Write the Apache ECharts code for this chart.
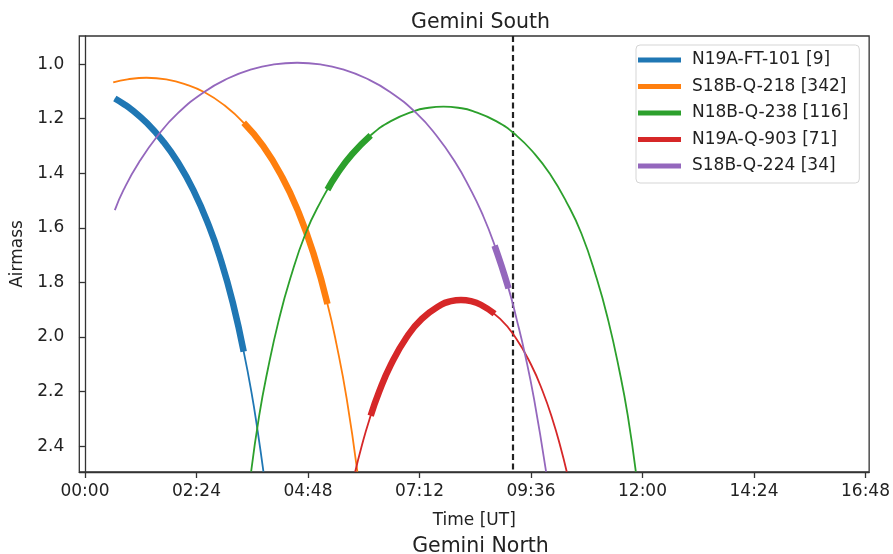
<!DOCTYPE html>
<html>
<head>
<meta charset="utf-8">
<script src="https://cdn.jsdelivr.net/npm/echarts@6/dist/echarts.min.js"></script>
<style>
html,body{margin:0;padding:0;background:#fff;}
#chart{width:893px;height:554px;}
</style>
</head>
<body>
<div id="chart"></div>
<script>
// ---- data (time in minutes UT, airmass) ----
const names = ['N19A-FT-101 [9]', 'S18B-Q-218 [342]', 'N18B-Q-238 [116]', 'N19A-Q-903 [71]', 'S18B-Q-224 [34]'];
const colors = ['#1f77b4', '#ff7f0e', '#2ca02c', '#d62728', '#9467bd'];

const blueCurve = [[38.6,1.126],[50,1.146],[60,1.166],[80,1.216],[100,1.280],[120,1.360],[140,1.462],[160,1.592],[175,1.714],[191,1.875],[205,2.054],[215,2.202],[223,2.344],[230.5,2.494]];
const blueObs   = [[38.6,1.126],[50,1.146],[60,1.166],[80,1.216],[100,1.280],[120,1.360],[140,1.462],[160,1.592],[175,1.714],[191,1.875],[205,2.054]];

const orangeCurve = [[36.5,1.067],[55,1.056],[79.4,1.050],[105,1.056],[130,1.074],[155,1.104],[180,1.151],[205,1.215],[230,1.300],[255,1.416],[275,1.537],[295,1.693],[313.2,1.879],[325,2.029],[338,2.226],[351.8,2.494]];
const orangeObs   = [[205,1.215],[230,1.300],[255,1.416],[275,1.537],[295,1.693],[313.2,1.879]];

const greenCurve = [[214.6,2.494],[225,2.288],[236,2.121],[250,1.942],[265,1.787],[285,1.620],[305,1.501],[325,1.405],[345,1.330],[369,1.261],[395,1.209],[425,1.172],[444,1.160],[463,1.156],[482,1.160],[501,1.172],[531,1.209],[557,1.261],[581,1.330],[601,1.405],[621,1.501],[641,1.620],[661,1.787],[676,1.942],[690,2.121],[701,2.288],[711.4,2.494]];
const greenObs   = [[313.2,1.460],[325,1.405],[345,1.330],[369,1.261]];

const redCurve = [[349,2.494],[357,2.404],[367,2.306],[380,2.200],[395,2.102],[415,2.003],[435,1.934],[460,1.882],[472.8,1.869],[485.6,1.865],[498.4,1.869],[511.2,1.882],[536.2,1.934],[556.2,2.003],[576.2,2.102],[591.2,2.200],[604.2,2.306],[614.2,2.404],[622.2,2.494]];
const redObs   = [[369,2.289],[380,2.200],[395,2.102],[415,2.003],[435,1.934],[460,1.882],[472.8,1.869],[485.6,1.865],[498.4,1.869],[511.2,1.882],[529,1.915]];

const purpleCurve = [[38.6,1.535],[50,1.460],[70,1.359],[94.4,1.261],[120,1.180],[154.5,1.101],[185,1.052],[215,1.019],[244,1.001],[274,0.995],[304,1.001],[333,1.019],[363,1.052],[393.5,1.101],[428,1.180],[453.6,1.261],[478,1.359],[498,1.460],[512,1.542],[527.8,1.654],[547,1.822],[558,1.941],[568.6,2.068],[580,2.228],[595.5,2.494]];
const purpleObs   = [[529,1.665],[538,1.740],[547,1.822]];

const nowTime = 552; // dashed marker (09:12 UT)

const xTicks = [0,144,288,432,576,720,864,1008];
const yTicks = [1.0,1.2,1.4,1.6,1.8,2.0,2.2,2.4];

// ---- chart ----
const curves = [blueCurve, orangeCurve, greenCurve, redCurve, purpleCurve];
const obs = [blueObs, orangeObs, greenObs, redObs, purpleObs];
const FONT = 'DejaVu Sans';

const series = [];
for (let i = 0; i < names.length; i++) {
  series.push({
    name: names[i], type: 'line', data: curves[i], smooth: 0.5,
    showSymbol: false, symbol: 'none', color: colors[i],
    lineStyle: {width: 1.8, color: colors[i]}, z: 2 + i * 2, silent: true
  });
  series.push({
    name: names[i], type: 'line', data: obs[i], smooth: 0.5,
    showSymbol: false, symbol: 'none', color: colors[i],
    lineStyle: {width: 6.5, color: colors[i]}, z: 3 + i * 2, silent: true
  });
}
series.push({
  name: 'now', type: 'line', data: [], z: 20, silent: true,
  markLine: {
    symbol: 'none', silent: true, label: {show: false},
    lineStyle: {type: [6, 3.5], color: '#222', width: 2.2},
    data: [{xAxis: nowTime}]
  }
});

function hhmm(v) {
  const h = Math.floor(v / 60), m = Math.round(v % 60);
  return String(h).padStart(2, '0') + ':' + String(m).padStart(2, '0');
}

const chart = echarts.init(document.getElementById('chart'), null, {renderer: 'canvas'});
chart.setOption({
  animation: false,
  backgroundColor: '#fff',
  title: [
    {text: 'Gemini South', left: 475.5, top: 7, textAlign: 'center',
     textStyle: {fontFamily: FONT, fontSize: 20.5, fontWeight: 'normal', color: '#222'}},
    {text: 'Gemini North', left: 475.5, top: 531, textAlign: 'center',
     textStyle: {fontFamily: FONT, fontSize: 20.5, fontWeight: 'normal', color: '#222'}}
  ],
  grid: {left: 79.3, right: 21.3, top: 36, bottom: 82, show: true, borderColor: '#333', borderWidth: 1.3, containLabel: false},
  legend: {
    data: names, orient: 'vertical', left: 636, top: 45,
    padding: [6.5, 11, 8.5, 2], itemGap: 9.5, itemWidth: 43, itemHeight: 5, icon: 'rect',
    borderColor: '#d5d5d5', borderWidth: 1, borderRadius: 4, backgroundColor: 'rgba(255,255,255,0.85)',
    textStyle: {fontFamily: FONT, fontSize: 17, color: '#222', lineHeight: 17, padding: [0, 0, 0, 6]},
    selectedMode: false
  },
  xAxis: {
    type: 'value', min: -7.3, max: 1012.7,
    name: 'Time [UT]', nameLocation: 'middle', nameGap: 40,
    nameTextStyle: {fontFamily: FONT, fontSize: 17, color: '#222'},
    axisLine: {show: true, lineStyle: {color: '#333', width: 1.3}},
    axisTick: {show: true, length: 6, customValues: xTicks, lineStyle: {color: '#333', width: 1.3}},
    axisLabel: {customValues: xTicks, margin: 11, fontFamily: FONT, fontSize: 17, color: '#222', formatter: hhmm},
    splitLine: {show: false}
  },
  yAxis: {
    type: 'value', inverse: true, min: 0.897, max: 2.495,
    name: 'Airmass', nameLocation: 'middle', nameGap: 49, nameRotate: 90,
    nameTextStyle: {fontFamily: FONT, fontSize: 17, color: '#222'},
    axisLine: {show: true, lineStyle: {color: '#333', width: 1.3}},
    axisTick: {show: true, length: 6, customValues: yTicks, lineStyle: {color: '#333', width: 1.3}},
    axisLabel: {customValues: yTicks, margin: 15, fontFamily: FONT, fontSize: 17, color: '#222', formatter: v => v.toFixed(1)},
    splitLine: {show: false}
  },
  series: series
});
</script>
</body>
</html>
